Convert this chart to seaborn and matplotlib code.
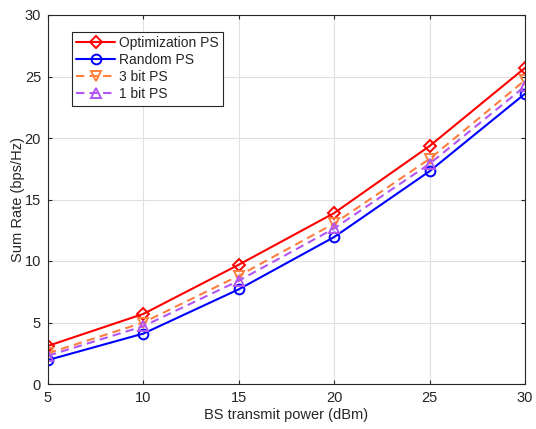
import numpy as np
import pandas as pd
import matplotlib
matplotlib.use("Agg")
import matplotlib.pyplot as plt
import seaborn as sns

# data
power = [5, 10, 15, 20, 25, 30]
opt_ps = [3.1, 5.7, 9.7, 13.9, 19.35, 25.7]
rand_ps = [1.95, 4.1, 7.7, 11.95, 17.3, 23.6]
bit3_ps = [2.5, 5.0, 8.8, 13.05, 18.3, 24.7]
bit1_ps = [2.3, 4.7, 8.4, 12.65, 17.9, 24.2]

names = ['Optimization PS', 'Random PS', '3 bit PS', '1 bit PS']
series = [opt_ps, rand_ps, bit3_ps, bit1_ps]
colors = ['#FF0000', '#0000FF', '#FF7F3F', '#B255F5']
markers = ['D', 'o', 'v', '^']
msizes = [6.2, 7, 7.5, 7.5]
dashes = [None, None, (4, 2.5), (4, 2.5)]

df = pd.DataFrame({
    'power': np.tile(power, len(names)),
    'rate': np.concatenate(series),
    'scheme': np.repeat(names, len(power)),
})

sns.set_style("whitegrid")
plt.rcParams['font.family'] = ['Liberation Sans', 'DejaVu Sans']

fig = plt.figure(figsize=(5.36, 4.29), dpi=100)
ax = fig.add_axes([48/536, 1 - 384/429, (525-48)/536, (384-15)/429])

for name, col, mk, ms, ds in zip(names, colors, markers, msizes, dashes):
    sub = df[df['scheme'] == name]
    sns.lineplot(data=sub, x='power', y='rate', ax=ax, color=col, marker=mk,
                 markersize=ms, markerfacecolor='none', markeredgecolor=col,
                 markeredgewidth=1.4, linewidth=1.5, label=name)
    if ds is not None:
        ax.lines[-1].set_dashes(ds)

ax.set_xlim(5, 30)
ax.set_ylim(0, 30)
ax.set_xticks(power)
ax.set_yticks(range(0, 31, 5))
ax.set_xlabel('BS transmit power (dBm)', fontsize=10.5, labelpad=2)
ax.set_ylabel('Sum Rate (bps/Hz)', fontsize=10.5, labelpad=0)
ax.tick_params(labelsize=10.5, length=3, direction='in', pad=5)
ax.grid(True, color='#e0e0e0', linewidth=0.8)
for s in ax.spines.values():
    s.set_color('#262626')
    s.set_linewidth(0.8)
ax.tick_params(colors='#262626', bottom=True, left=True, top=True, right=True)

leg = ax.legend(loc='upper left', bbox_to_anchor=(24/477, 1 - 17/369), borderaxespad=0,
                fontsize=10, frameon=True, fancybox=False, edgecolor='#262626',
                framealpha=1, handlelength=2.8, borderpad=0.3, labelspacing=0.22,
                handletextpad=0.3)
leg.get_frame().set_linewidth(0.8)

fig.savefig('out.png', dpi=100)
